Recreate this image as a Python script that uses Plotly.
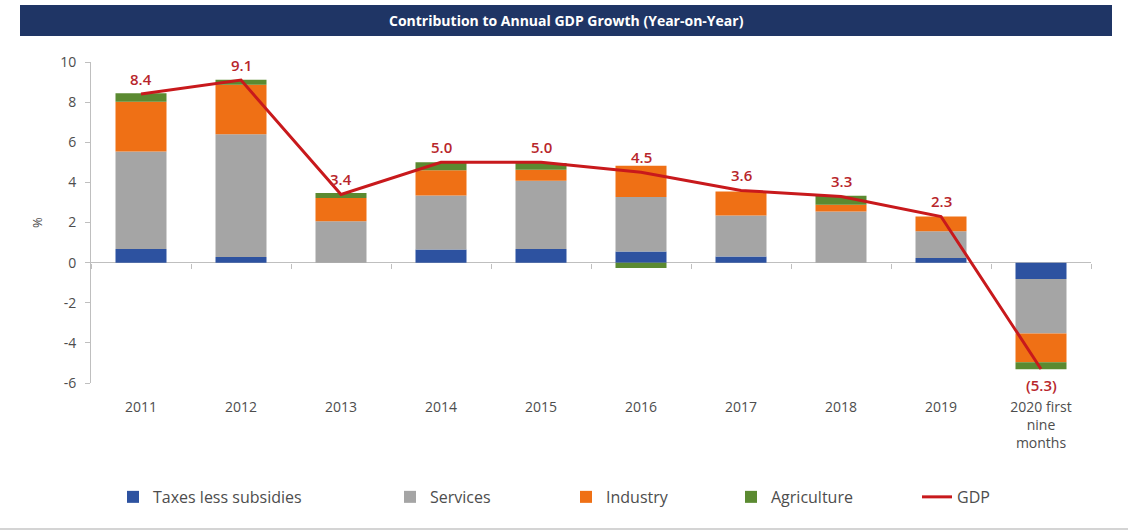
import plotly.graph_objects as go

# Contribution to annual GDP growth, percentage points
years = ["2011", "2012", "2013", "2014", "2015", "2016", "2017", "2018", "2019",
         "2020 first<br>nine<br>months"]
taxes = [0.68, 0.28, 0.0, 0.65, 0.68, 0.56, 0.31, 0.0, 0.23, -0.81]
services = [4.86, 6.12, 2.06, 2.70, 3.40, 2.71, 2.04, 2.55, 1.33, -2.72]
industry = [2.48, 2.46, 1.16, 1.25, 0.55, 1.56, 1.20, 0.33, 0.74, -1.43]
agriculture = [0.42, 0.25, 0.25, 0.40, 0.33, -0.27, 0.0, 0.45, 0.0, -0.36]
gdp = [8.4, 9.1, 3.4, 5.0, 5.0, 4.5, 3.6, 3.3, 2.3, -5.3]
y_ticks = [-6, -4, -2, 0, 2, 4, 6, 8, 10]

FONT = "Open Sans"
TEXT_GREY = "#4d4d4d"
AXIS_GREY = "#bfbfbf"
LABEL_RED = "#b8262b"

fig = go.Figure()

components = [
    ("Taxes less subsidies", taxes, "#2d52a0", "legend"),
    ("Services", services, "#a5a5a5", "legend2"),
    ("Industry", industry, "#ef7015", "legend3"),
    ("Agriculture", agriculture, "#5b8a31", "legend4"),
]
for name, vals, color, leg in components:
    fig.add_trace(go.Bar(
        x=years, y=vals, name=name, legend=leg,
        marker=dict(color=color, line=dict(width=0)),
    ))

fig.add_trace(go.Scatter(
    x=years, y=gdp, name="GDP", legend="legend5", xaxis="x2",
    mode="lines", line=dict(color="#c8191c", width=3),
))

# GDP value labels, above positive points and below the negative one.
# Category positions are given by index so numeric-looking names stay categories.
gdp_labels = []
for i, v in enumerate(gdp):
    txt = f"{v:.1f}" if v >= 0 else f"({abs(v):.1f})"
    gdp_labels.append(dict(
        x=i, y=v, xref="x", yref="y", text=txt, showarrow=False,
        xanchor="center", yanchor="middle", yshift=15 if v >= 0 else -16,
        font=dict(family=FONT, size=15, color=LABEL_RED, weight=600),
    ))

legend_base = dict(orientation="h", y=-0.355, yanchor="middle", xanchor="left",
                   font=dict(family=FONT, size=16, color=TEXT_GREY),
                   bgcolor="rgba(0,0,0,0)")
legends = {}
for key, xpos in [("legend", 0.022), ("legend2", 0.299), ("legend3", 0.475),
                  ("legend4", 0.640), ("legend5", 0.826)]:
    legends[key] = dict(legend_base, x=xpos)

fig.update_layout(
    width=1128, height=531,
    margin=dict(l=91, r=37, t=62, b=148),
    paper_bgcolor="white", plot_bgcolor="white",
    barmode="relative", bargap=0.49,
    font=dict(family=FONT, color=TEXT_GREY),
    showlegend=True,
    **legends,
    xaxis=dict(
        type="category", categoryarray=years, range=[-0.5, 9.5],
        showline=False, showgrid=False, zeroline=False, ticks="",
        ticklabelstandoff=14,
        tickfont=dict(family=FONT, size=14, color=TEXT_GREY),
    ),
    xaxis2=dict(
        type="category", categoryarray=years, range=[-0.5, 9.5],
        overlaying="x", anchor="free", position=0.375, side="bottom",
        showline=False, showgrid=False, zeroline=False,
        showticklabels=False, ticks="outside", tickson="boundaries",
        ticklen=5, tickcolor=AXIS_GREY, tickwidth=1,
    ),
    yaxis=dict(
        range=[-6, 10], tickvals=y_ticks, ticktext=[str(t) for t in y_ticks],
        showgrid=False,
        showline=True, linecolor=AXIS_GREY, linewidth=1,
        ticks="outside", ticklen=5, tickcolor=AXIS_GREY,
        zeroline=True, zerolinecolor=AXIS_GREY, zerolinewidth=1,
        ticklabelstandoff=6,
        tickfont=dict(family=FONT, size=14, color=TEXT_GREY),
        title=dict(text="%", standoff=14,
                   font=dict(family=FONT, size=13, color=TEXT_GREY)),
    ),
    shapes=[
        dict(type="rect", xref="paper", yref="paper",
             x0=-0.071, x1=1.021, y0=1.081, y1=1.1776,
             fillcolor="#1f3565", line=dict(width=0), layer="below"),
        dict(type="line", xref="paper", yref="paper",
             x0=-0.091, x1=1.037, y0=-0.455, y1=-0.455,
             line=dict(color="#d4d4d4", width=2)),
    ],
    annotations=gdp_labels + [
        dict(text="<b>Contribution to Annual GDP Growth (Year-on-Year)</b>",
             xref="paper", yref="paper", x=0.475, y=1.129,
             xanchor="center", yanchor="middle", showarrow=False,
             font=dict(family=FONT, size=14, color="white")),
    ],
)

fig.write_html("out.html")
